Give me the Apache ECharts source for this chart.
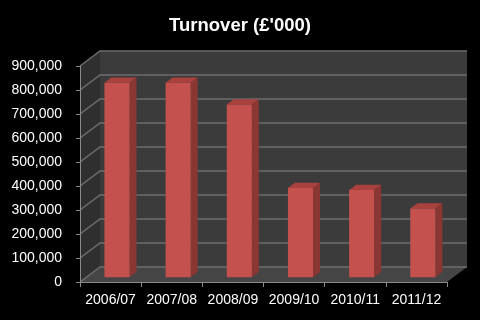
<!DOCTYPE html>
<html><head><meta charset="utf-8">
<script src="https://cdn.jsdelivr.net/npm/echarts@6/dist/echarts.min.js"></script>
<style>html,body{margin:0;padding:0;background:#000}#c{width:480px;height:320px}</style>
</head><body><div id="c"></div>
<script>
const categories = ['2006/07', '2007/08', '2008/09', '2009/10', '2010/11', '2011/12'];
const turnover = [810000, 810000, 720000, 372000, 363000, 286000];
const yMin = 0, yMax = 900000, yStep = 100000;
const titleText = "Turnover (£'000)";

const DX = 20, DY = -15;
const FONT = '"Liberation Sans", Arial, sans-serif';

const chart = echarts.init(document.getElementById('c'), null, {renderer: 'canvas'});

function wallsRender(params, api) {
  const cs = params.coordSys;
  const x = cs.x, y = cs.y, w = cs.width, h = cs.height;
  const children = [];
  children.push({type: 'rect', shape: {x: x + DX, y: y + DY, width: w, height: h},
    style: {fill: '#3b3b3b'}});
  children.push({type: 'polygon', shape: {points: [[x, y], [x + DX, y + DY], [x + DX, y + h + DY], [x, y + h]]},
    style: {fill: '#2f2f2f'}});
  children.push({type: 'polygon', shape: {points: [[x, y + h], [x + w, y + h], [x + w + DX, y + h + DY], [x + DX, y + h + DY]]},
    style: {fill: '#454545'}});
  for (let v = yMin; v <= yMax; v += yStep) {
    const py = api.coord([0, v])[1];
    children.push({type: 'polyline', shape: {points: [[x, py], [x + DX, py + DY], [x + w + DX, py + DY]]},
      style: {stroke: '#6e6e6e', lineWidth: 1.5, fill: null}});
  }
  return {type: 'group', children};
}

function barRender(params, api) {
  const idx = api.value(0), v = api.value(1);
  const top = api.coord([idx, v]);
  const base = api.coord([idx, 0]);
  const bw = api.size([1, 0])[0] * 0.41;
  const ox = DX * 0.32, oy = DY * 0.32;
  const dx = DX * 0.35, dy = DY * 0.35;
  const x0 = top[0] - bw / 2 + ox, x1 = x0 + bw;
  const yt = top[1] + oy, yb = base[1] + oy;
  return {type: 'group', children: [
    {type: 'polygon', shape: {points: [[x1, yt], [x1 + dx, yt + dy], [x1 + dx, yb + dy], [x1, yb]]},
      style: {fill: '#8a3633'}},
    {type: 'polygon', shape: {points: [[x0, yt], [x0 + dx, yt + dy], [x1 + dx, yt + dy], [x1, yt]]},
      style: {fill: '#a9413e'}},
    {type: 'rect', shape: {x: x0, y: yt, width: bw, height: yb - yt},
      style: {fill: '#c4514e'}}
  ]};
}

chart.setOption({
  backgroundColor: '#000',
  animation: false,
  title: {
    text: titleText, left: 'center', top: 11,
    textStyle: {color: '#fff', fontSize: 18.5, fontWeight: 'bold', fontFamily: FONT}
  },
  grid: {left: 80, right: 33, top: 66, bottom: 38, containLabel: false},
  xAxis: {
    type: 'category', data: categories, boundaryGap: true, z: 10,
    axisLine: {show: true, lineStyle: {color: '#8a8a8a', width: 1}},
    axisTick: {show: true, length: 5, interval: 0, lineStyle: {color: '#8a8a8a'}},
    axisLabel: {color: '#fff', fontSize: 14, fontFamily: FONT, margin: 11, interval: 0}
  },
  yAxis: {
    type: 'value', min: yMin, max: yMax, interval: yStep, z: 10,
    axisLine: {show: true, lineStyle: {color: '#8a8a8a', width: 1}},
    axisTick: {show: true, length: 4, lineStyle: {color: '#8a8a8a'}},
    splitLine: {show: false},
    axisLabel: {color: '#fff', fontSize: 14, fontFamily: FONT, margin: 18,
      formatter: v => v.toLocaleString('en-GB')}
  },
  series: [
    {type: 'custom', z: 1, renderItem: wallsRender, data: [[0, 0]], silent: true},
    {type: 'custom', z: 2, renderItem: barRender, data: turnover.map((v, i) => [i, v])}
  ]
});
</script></body></html>
